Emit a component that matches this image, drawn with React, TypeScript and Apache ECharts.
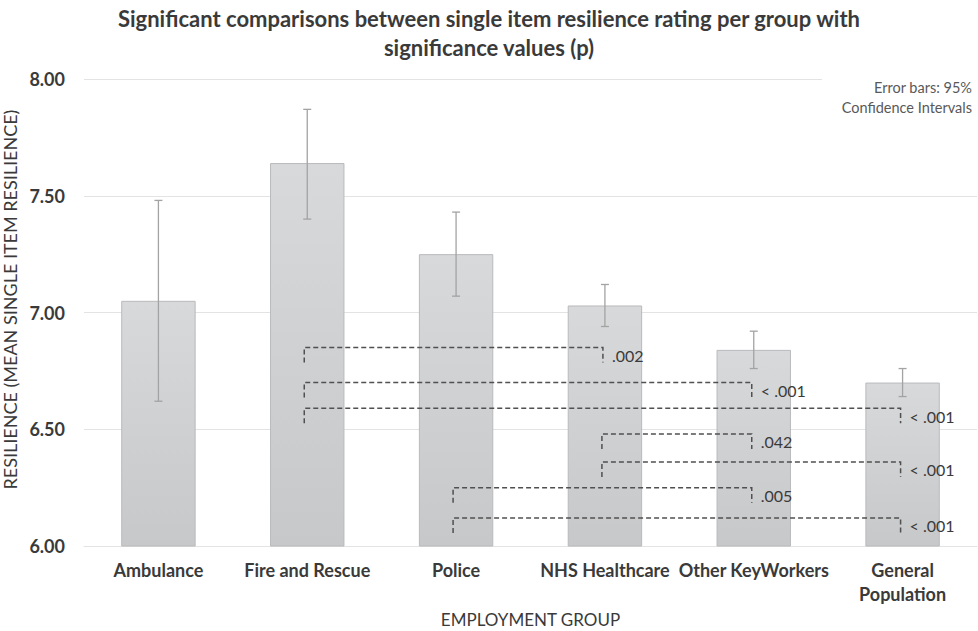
import React, { useEffect, useRef } from "react";
import * as echarts from "echarts";

const categories = ["Ambulance", "Fire and Rescue", "Police", "NHS Healthcare", "Other KeyWorkers", "General\nPopulation"];
const means = [7.05, 7.64, 7.25, 7.03, 6.84, 6.70];
const ciLow = [6.62, 7.40, 7.07, 6.94, 6.76, 6.64];
const ciHigh = [7.48, 7.87, 7.43, 7.12, 6.92, 6.76];
const yTicks = [6, 6.5, 7, 7.5, 8];

// comparisons: [from category index, to category index, bracket level]
const compFrom = [1, 1, 1, 3, 3, 2, 2];
const compTo = [3, 4, 5, 4, 5, 4, 5];
const compLevel = [6.85, 6.70, 6.59, 6.48, 6.36, 6.25, 6.12];
const compP = [".002", "< .001", "< .001", ".042", "< .001", ".005", "< .001"];

const FONT = "Lato, 'Open Sans', sans-serif";

export default function App() {
  const ref = useRef<HTMLDivElement>(null);
  useEffect(() => {
    if (!ref.current) return;
    const chart = echarts.init(ref.current, null, { renderer: "svg" });
    const errData = categories.map((_, i) => [i, ciLow[i], ciHigh[i]]);
    const compData = compFrom.map((f, i) => [f, compTo[i], compLevel[i]]);
    chart.setOption({
      animation: false,
      backgroundColor: "#ffffff",
      textStyle: { fontFamily: FONT },
      title: {
        text: "Significant comparisons between single item resilience rating per group with\nsignificance values (p)",
        left: "center",
        top: -1,
        textStyle: { fontFamily: FONT, fontSize: 22, fontWeight: "bold", color: "#3a3a3a", lineHeight: 29 },
      },
      grid: { left: 84, right: 1, top: 79, height: 467, outerBoundsMode: "none", containLabel: false },
      xAxis: {
        type: "category",
        data: categories,
        axisTick: { show: false },
        axisLine: { show: true, lineStyle: { color: "#e3e3e3", width: 1 } },
        axisLabel: {
          interval: 0,
          margin: 12,
          fontFamily: FONT,
          fontSize: 18,
          fontWeight: "bold",
          color: "#3a3a3a",
          lineHeight: 24,
        },
        name: "EMPLOYMENT GROUP",
        nameLocation: "middle",
        nameGap: 64,
        nameTextStyle: { fontFamily: FONT, fontSize: 17, color: "#3a3a3a" },
      },
      yAxis: {
        type: "value",
        min: yTicks[0],
        max: yTicks[yTicks.length - 1],
        interval: 0.5,
        axisLine: { show: false },
        axisTick: { show: false },
        splitLine: { lineStyle: { color: "#e3e3e3", width: 1 } },
        axisLabel: {
          margin: 19,
          fontFamily: FONT,
          fontSize: 18,
          fontWeight: "bold",
          color: "#3a3a3a",
          formatter: (v: number) => v.toFixed(2),
        },
        name: "RESILIENCE (MEAN SINGLE ITEM RESILIENCE)",
        nameLocation: "middle",
        nameRotate: 90,
        nameGap: 49,
        nameTextStyle: { fontFamily: FONT, fontSize: 18, color: "#3a3a3a", padding: [0, 0, 0, 26] },
      },
      series: [
        {
          type: "bar",
          data: means,
          barWidth: "50%",
          itemStyle: {
            color: new echarts.graphic.LinearGradient(0, 0, 0, 1, [
              { offset: 0, color: "#d8d9db" },
              { offset: 1, color: "#c7c8ca" },
            ]),
            borderColor: "#b9babc",
            borderWidth: 1,
          },
          z: 2,
        },
        {
          type: "custom",
          data: errData,
          encode: { x: 0, y: [1, 2] },
          z: 3,
          renderItem: (params: any, api: any) => {
            const hi = api.coord([api.value(0), api.value(2)]);
            const lo = api.coord([api.value(0), api.value(1)]);
            const st = { stroke: "#a3a3a3", lineWidth: 1.3 };
            const w = 4;
            return {
              type: "group",
              children: [
                { type: "line", shape: { x1: hi[0], y1: hi[1], x2: lo[0], y2: lo[1] }, style: st },
                { type: "line", shape: { x1: hi[0] - w, y1: hi[1], x2: hi[0] + w, y2: hi[1] }, style: st },
                { type: "line", shape: { x1: lo[0] - w, y1: lo[1], x2: lo[0] + w, y2: lo[1] }, style: st },
              ],
            };
          },
        },
        {
          type: "custom",
          data: compData,
          encode: { x: 0, y: 2 },
          z: 4,
          clip: false,
          renderItem: (params: any, api: any) => {
            const a = api.coord([api.value(0), api.value(2)]);
            const b = api.coord([api.value(1), api.value(2)]);
            const x1 = a[0] - 3;
            const x2 = b[0] - 2;
            const y = a[1];
            const t = 15;
            return {
              type: "group",
              children: [
                {
                  type: "polyline",
                  shape: { points: [[x1, y + t], [x1, y], [x2, y], [x2, y + t]] },
                  style: { stroke: "#505050", lineWidth: 1.5, lineDash: [5, 3], fill: null },
                },
                {
                  type: "text",
                  x: x2 + 9,
                  y: y + 8,
                  style: {
                    text: compP[params.dataIndex],
                    fill: "#3a3a3a",
                    font: `16px ${FONT}`,
                    textAlign: "left",
                    textVerticalAlign: "middle",
                  },
                },
              ],
            };
          },
        },
      ],
      graphic: [
        { type: "rect", shape: { x: 822, y: 72, width: 160, height: 14 }, style: { fill: "#ffffff" }, z: 10 },
        {
          type: "text",
          right: 6,
          top: 77,
          z: 11,
          style: {
            text: "Error bars: 95%\nConfidence Intervals",
            fill: "#595959",
            font: `14.5px ${FONT}`,
            textAlign: "right",
            lineHeight: 20,
          },
        },
      ],
    });
    return () => chart.dispose();
  }, []);
  return <div ref={ref} style={{ position: "absolute", left: 0, top: 0, width: 978, height: 631 }} />;
}
